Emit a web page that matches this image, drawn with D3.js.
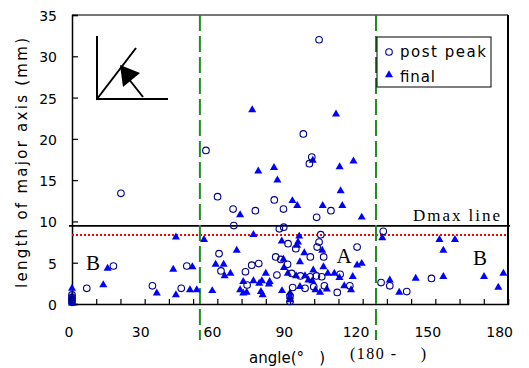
<!DOCTYPE html>
<html>
<head>
<meta charset="utf-8">
<script src="https://cdn.jsdelivr.net/npm/d3@7"></script>
<style>
  body { margin: 0; background: #fff; }
  text { font-family: "DejaVu Sans", "Liberation Sans", Arial, sans-serif; }
  .serif { font-family: "Liberation Serif", "Times New Roman", serif; }
</style>
</head>
<body>
<div id="container"></div>
<script>
// [angle (deg), length of major axis (mm)]
const postPeak = [
  [0, 0.2], [0, 0.5], [0, 0.8], [0, 1.1],
  [6.1, 1.9], [17.1, 4.6], [20.2, 13.4], [33.2, 2.2], [45.1, 1.9], [47.4, 4.6],
  [55.3, 18.6], [60.1, 13.0], [60.7, 6.1], [61.5, 4.0], [66.5, 11.5], [66.8, 9.5],
  [71.6, 3.9], [72.3, 2.3], [74.2, 4.7], [75.7, 11.3], [77.1, 4.9],
  [83.5, 12.6], [84.1, 5.7], [84.6, 3.5], [85.6, 9.1], [86.2, 5.4], [87.3, 11.5], [87.4, 9.3],
  [89.0, 4.8], [89.2, 7.3], [90, 0.3], [90, 1.0], [90.7, 3.7], [91.1, 2.0], [92.4, 6.7], [94.3, 3.4],
  [95.5, 20.6], [96.2, 1.9], [98.0, 17.0], [98.3, 3.3], [98.4, 5.7], [99.0, 17.8], [99.8, 2.1],
  [100.9, 3.4], [101.0, 10.5], [101.2, 6.9], [102.0, 7.5], [102.0, 32.0], [102.7, 8.4], [103.9, 5.7],
  [103.1, 3.3], [104.2, 2.2], [106.9, 11.3], [109.5, 1.4], [110.7, 3.6], [114.7, 2.2], [117.7, 6.9],
  [127.6, 2.6], [128.5, 8.8], [131.2, 2.2], [138.2, 1.5], [148.4, 3.1]
];

const finalPts = [
  [0, 0.1], [0, 0.3], [0, 0.6], [0, 0.9], [0, 1.9],
  [12.9, 2.3], [14.7, 4.3], [35.0, 1.3], [41.8, 4.2], [42.9, 8.1], [42.9, 1.1], [48.7, 1.7], [49.7, 4.5], [51.5, 1.7],
  [54.5, 7.8], [57.9, 1.6], [59.3, 4.8], [62.6, 4.8], [63.0, 3.4], [65.4, 3.7], [68.0, 6.5],
  [69.4, 10.8], [69.4, 1.7], [70.7, 2.7], [70.7, 1.3], [72.1, 1.4], [74.4, 23.5], [74.9, 8.4], [74.9, 2.8],
  [76.9, 16.1], [77.3, 2.5], [78.0, 1.5], [78.4, 2.8], [78.7, 1.1], [80.0, 3.7], [81.3, 2.4], [81.6, 2.7],
  [83.4, 16.5], [84.8, 15.0], [86.6, 7.6], [86.7, 1.6], [87.3, 5.4], [87.5, 4.4], [89.1, 3.7],
  [90, 0.5], [90, 0.9], [90, 1.3], [91.0, 12.5], [92.5, 3.4], [92.9, 7.1], [93.0, 11.9], [93.3, 7.5], [93.8, 8.2],
  [94.1, 5.1], [94.1, 2.1], [95.9, 6.2], [96.2, 3.4], [97.6, 2.9], [99.2, 2.8], [99.4, 17.4], [99.6, 4.1], [100.5, 1.7],
  [102.4, 1.4], [103.3, 6.5], [103.5, 11.9], [103.8, 4.5], [105.2, 1.8], [105.6, 3.7], [108.3, 3.7],
  [109.0, 23.0], [110.4, 3.2], [110.5, 16.6], [110.9, 13.7], [111.6, 11.9], [112.4, 2.2], [115.2, 1.7],
  [115.9, 3.3], [116.2, 17.3], [117.7, 4.7], [119.6, 10.5], [119.6, 4.9],
  [128.1, 8.0], [131.2, 2.9], [135.1, 1.4], [141.9, 3.1], [151.7, 7.8], [153.3, 6.5], [153.3, 3.3], [158.1, 7.8],
  [170.1, 3.3], [176.0, 2.0], [178.1, 3.7]
];

const xTicks = [0, 30, 60, 90, 120, 150, 180];
const yTicks = [0, 5, 10, 15, 20, 25, 30, 35];
const boundaries = [52.8, 125.5];   // green dashed lines
const dmax = 9.45;                  // Dmax line
const redLevel = 8.5;               // red dotted line
const legendLabels = ["post peak", "final"];

const W = 529, H = 368;
const margin = {left: 72, right: 21, top: 15, bottom: 64};

const svg = d3.select("#container").append("svg")
  .attr("width", W).attr("height", H);

const x = d3.scaleLinear().domain([0, 180]).range([margin.left, W - margin.right]);
const y = d3.scaleLinear().domain([0, 35]).range([H - margin.bottom, margin.top]);

// frame
svg.append("line").attr("x1", x(0)).attr("x2", x(180)).attr("y1", y(35)).attr("y2", y(35))
  .attr("stroke", "#777").attr("stroke-width", 2);
svg.append("line").attr("x1", x(180)).attr("x2", x(180)).attr("y1", y(35)).attr("y2", y(0))
  .attr("stroke", "#000").attr("stroke-width", 2);

// x axis (ticks inward, every 10 deg)
const xAxis = svg.append("g").attr("transform", "translate(0," + y(0) + ")")
  .call(d3.axisBottom(x).tickValues(d3.range(0, 181, 10)).tickSize(-5).tickFormat(""));
xAxis.select(".domain").attr("stroke-width", 1.5);
xAxis.selectAll(".tick line").attr("stroke-width", 1.2);

svg.append("g").selectAll("text").data(xTicks).enter().append("text")
  .attr("x", d => x(d) - 3 - d * 0.03)
  .attr("y", 337)
  .attr("text-anchor", "middle")
  .attr("font-size", 14)
  .text(d => d);

// y axis (ticks inward)
const yAxis = svg.append("g").attr("transform", "translate(" + x(0) + ",0)")
  .call(d3.axisLeft(y).tickValues(yTicks).tickSize(-6).tickFormat(""));
yAxis.select(".domain").attr("stroke-width", 1.5);
yAxis.selectAll(".tick line").attr("stroke-width", 1.2);

svg.append("g").selectAll("text").data(yTicks).enter().append("text")
  .attr("x", 57)
  .attr("y", d => y(d) + 6)
  .attr("text-anchor", "end")
  .attr("font-size", 14)
  .text(d => d);

// axis titles
svg.append("text")
  .attr("transform", "translate(27,163) rotate(-90)")
  .attr("text-anchor", "middle")
  .attr("font-size", 15)
  .attr("textLength", 250).attr("lengthAdjust", "spacing")
  .text("length of major axis (mm)");

svg.append("text")
  .attr("x", 249).attr("y", 363)
  .attr("font-size", 15)
  .attr("textLength", 76).attr("lengthAdjust", "spacing")
  .text("angle(°\u3000)");

svg.append("text").attr("class", "serif")
  .attr("x", 350).attr("y", 359)
  .attr("font-size", 16)
  .attr("textLength", 76).attr("lengthAdjust", "spacing")
  .text("(180 -\u3000 )");

// reference lines
svg.append("line")
  .attr("x1", x(0) - 3).attr("x2", x(180) + 2)
  .attr("y1", y(dmax)).attr("y2", y(dmax))
  .attr("stroke", "#000").attr("stroke-width", 1.8);

svg.append("line")
  .attr("x1", x(0)).attr("x2", x(180))
  .attr("y1", Math.round(y(redLevel)) + 0.5).attr("y2", Math.round(y(redLevel)) + 0.5)
  .attr("stroke", "#ff0000").attr("stroke-width", 2)
  .attr("stroke-dasharray", "2,2")
  .attr("shape-rendering", "crispEdges");

svg.selectAll(".bound").data(boundaries).enter().append("line")
  .attr("class", "bound")
  .attr("x1", d => x(d)).attr("x2", d => x(d))
  .attr("y1", y(35)).attr("y2", 340)
  .attr("stroke", "#1f8f1f").attr("stroke-width", 2)
  .attr("stroke-dasharray", "16,5");

// region labels
svg.append("text").attr("class", "serif")
  .attr("x", 413).attr("y", 221).attr("font-size", 17)
  .attr("textLength", 87).attr("lengthAdjust", "spacing")
  .text("Dmax line");
svg.append("text").attr("class", "serif")
  .attr("x", 344).attr("y", 263).attr("text-anchor", "middle").attr("font-size", 21).text("A");
svg.append("text").attr("class", "serif")
  .attr("x", 93).attr("y", 270).attr("text-anchor", "middle").attr("font-size", 21).text("B");
svg.append("text").attr("class", "serif")
  .attr("x", 480).attr("y", 265).attr("text-anchor", "middle").attr("font-size", 21).text("B");

// inset diagram
const inset = svg.append("g").attr("stroke", "#000").attr("stroke-width", 2).attr("fill", "none");
inset.append("path").attr("d", "M97,36 V99 H168");
inset.append("line").attr("x1", 97).attr("y1", 99).attr("x2", 136).attr("y2", 48);
inset.append("line").attr("x1", 143).attr("y1", 97).attr("x2", 128).attr("y2", 78);
svg.append("path").attr("d", "M120,65 L123,87 L140,73 Z").attr("fill", "#000");

// points
const tri = d3.symbol().type(d3.symbolTriangle).size(28);

svg.append("g").selectAll("path").data(finalPts).enter().append("path")
  .attr("d", tri)
  .attr("transform", d => "translate(" + x(d[0]) + "," + y(d[1]) + ")")
  .attr("fill", "#0000ff");

svg.append("g").selectAll("circle").data(postPeak).enter().append("circle")
  .attr("cx", d => x(d[0])).attr("cy", d => y(d[1]))
  .attr("r", 3.3)
  .attr("fill", "none")
  .attr("stroke", "#00008b").attr("stroke-width", 1.1);

// legend
const lg = svg.append("g");
lg.append("rect").attr("x", 377).attr("y", 37).attr("width", 114).attr("height", 50)
  .attr("fill", "#fff").attr("stroke", "#000").attr("stroke-width", 1);
lg.append("circle").attr("cx", 389).attr("cy", 52).attr("r", 3.3)
  .attr("fill", "none").attr("stroke", "#00008b").attr("stroke-width", 1.1);
lg.append("path").attr("d", tri).attr("transform", "translate(389,75)").attr("fill", "#0000ff");
lg.append("text").attr("x", 400).attr("y", 57).attr("font-size", 15)
  .attr("textLength", 86).attr("lengthAdjust", "spacing").text(legendLabels[0]);
lg.append("text").attr("x", 400).attr("y", 82).attr("font-size", 15)
  .attr("textLength", 35).attr("lengthAdjust", "spacing").text(legendLabels[1]);
</script>
</body>
</html>
